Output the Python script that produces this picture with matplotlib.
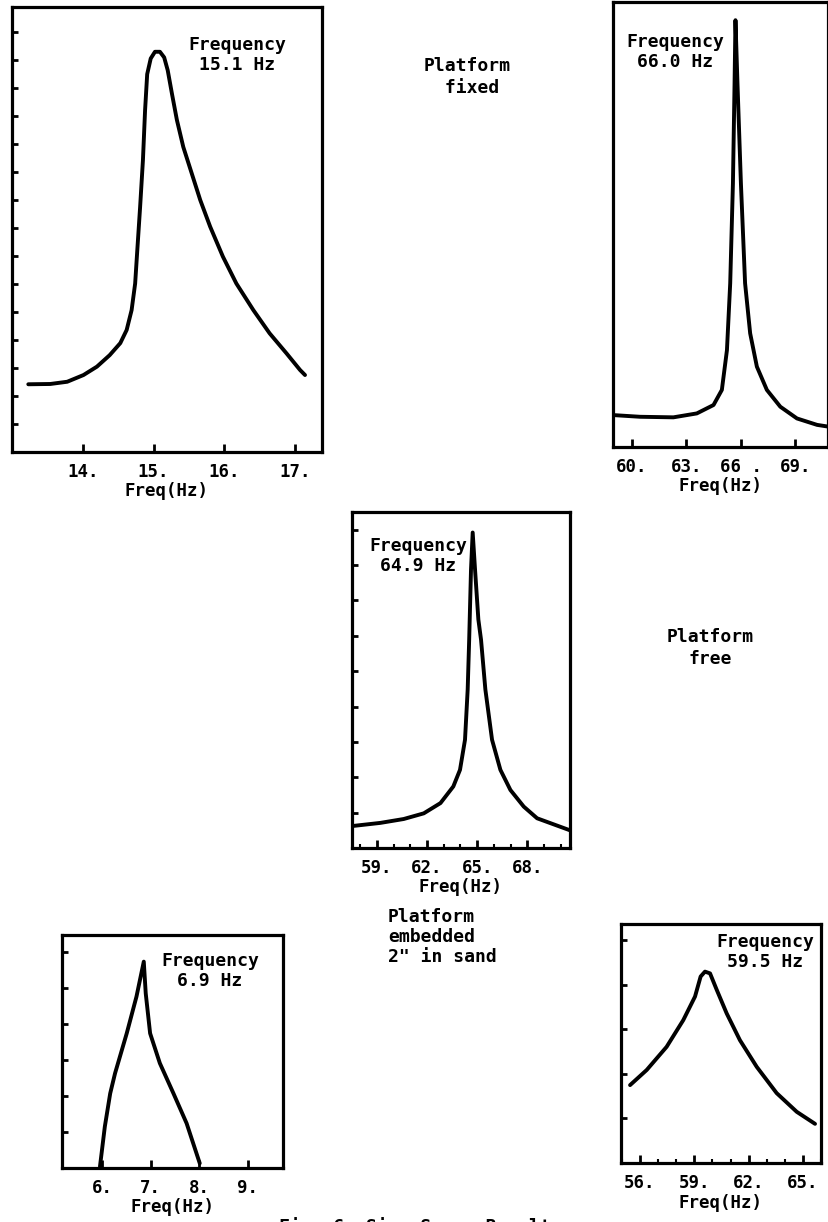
import numpy as np
import matplotlib.pyplot as plt
from matplotlib.ticker import MultipleLocator

plt.rcParams['font.family'] = ['DejaVu Sans Mono', 'Liberation Mono']
plt.rcParams['font.weight'] = 'bold'

W, H = 829, 1222

# platform fixed, first mode
f1 = [13.23, 13.54, 13.78, 14.01, 14.20, 14.38, 14.53, 14.62, 14.69, 14.74,
      14.77, 14.81, 14.85, 14.88, 14.91, 14.96, 15.02, 15.09, 15.15, 15.20,
      15.26, 15.33, 15.42, 15.54, 15.66, 15.80, 15.98, 16.17, 16.41, 16.64,
      16.88, 17.07, 17.14]
a1 = [2.42, 2.43, 2.51, 2.75, 3.05, 3.46, 3.89, 4.36, 5.07, 6.02,
      7.2, 8.75, 10.43, 12.2, 13.5, 14.06, 14.3, 14.3, 14.1, 13.64,
      12.8, 11.86, 10.9, 9.95, 9.0, 8.05, 6.98, 6.02, 5.07, 4.24,
      3.52, 2.93, 2.75]

# platform fixed, second mode
f2 = [58.97, 60.44, 62.28, 63.57, 64.49, 64.95, 65.23, 65.41, 65.56, 65.65,
      65.70, 65.81, 66.0, 66.23, 66.51, 66.88, 67.43, 68.17, 69.09, 70.2, 70.8]
a2 = [1.14, 1.08, 1.06, 1.2, 1.5, 2.04, 3.46, 5.85, 9.42, 13.0,
      15.25, 13.0, 9.42, 5.85, 4.06, 2.87, 2.04, 1.44, 1.02, 0.79, 0.73]

# platform free
f3 = [57.5, 59.2, 60.6, 61.8, 62.8, 63.57, 63.97, 64.27, 64.43, 64.52, 64.63,
      64.73, 64.87, 65.07, 65.23, 65.49, 65.89, 66.39, 66.99, 67.79, 68.59,
      70.56]
a3 = [0.62, 0.71, 0.82, 0.98, 1.27, 1.74, 2.21, 3.06, 4.48, 5.89, 7.88,
      8.92, 7.88, 6.46, 5.89, 4.48, 3.06, 2.21, 1.64, 1.17, 0.84,
      0.5]

# platform embedded, first mode
f4 = [5.96, 6.06, 6.17, 6.27, 6.51, 6.71, 6.86, 6.90, 6.99, 7.19, 7.47, 7.74, 8.01]
a4 = [0.04, 1.15, 2.07, 2.63, 3.74, 4.76, 5.73, 4.85, 3.74, 2.91, 2.07, 1.24, 0.13]

# platform embedded, second mode
f5 = [55.45, 56.37, 57.47, 58.39, 59.04, 59.35, 59.59, 59.87, 60.24, 60.79,
      61.52, 62.45, 63.55, 64.66, 65.67]
a5 = [1.75, 2.09, 2.61, 3.21, 3.74, 4.19, 4.3, 4.26, 3.89, 3.36,
      2.76, 2.16, 1.57, 1.15, 0.88]

panels = [
    dict(box=(12, 7, 322, 452), f=f1, a=a1, xlim=(13.0, 17.38), ylim=(0, 15.9),
         xt=[14, 15, 16, 17], xl=["14.", "15.", "16.", "17."], minor=None,
         yt=range(1, 16), txt="Frequency\n15.1 Hz", tx=237, ty=55),
    dict(box=(613, 2, 828, 447), f=f2, a=a2, xlim=(58.95, 70.8), ylim=(0, 15.9),
         xt=[60, 63, 66, 69], xl=["60.", "63.", "66 .", "69."], minor=None,
         yt=[], txt="Frequency\n66.0 Hz", tx=675, ty=52),
    dict(box=(352, 512, 570, 848), f=f3, a=a3, xlim=(57.5, 70.56), ylim=(0, 9.5),
         xt=[59, 62, 65, 68], xl=["59.", "62.", "65.", "68."], minor=1,
         yt=range(1, 10), txt="Frequency\n64.9 Hz", tx=418, ty=556),
    dict(box=(62, 935, 283, 1168), f=f4, a=a4, xlim=(5.18, 9.72), ylim=(0, 6.47),
         xt=[6, 7, 8, 9], xl=["6.", "7.", "8.", "9."], minor=None,
         yt=range(1, 7), txt="Frequency\n6.9 Hz", tx=210, ty=971),
    dict(box=(621, 924, 821, 1163), f=f5, a=a5, xlim=(54.95, 66.0), ylim=(0, 5.37),
         xt=[56, 59, 62, 65], xl=["56.", "59.", "62.", "65."], minor=1,
         yt=range(1, 6), txt="Frequency\n59.5 Hz", tx=765, ty=952),
]

fig = plt.figure(figsize=(W / 100, H / 100), dpi=100)

for p in panels:
    x0, y0, x1, y1 = p['box']
    ax = fig.add_axes([x0 / W, 1 - y1 / H, (x1 - x0) / W, (y1 - y0) / H])
    ax.plot(p['f'], p['a'], color='black', lw=2.8, solid_capstyle='round',
            solid_joinstyle='round')
    ax.set_xlim(*p['xlim'])
    ax.set_ylim(*p['ylim'])
    ax.set_xticks(p['xt'])
    ax.set_xticklabels(p['xl'], fontsize=12.5, fontweight='bold')
    if p['minor']:
        ax.xaxis.set_minor_locator(MultipleLocator(p['minor']))
    ax.set_yticks(list(p['yt']))
    ax.set_yticklabels([])
    ax.tick_params(axis='x', which='major', direction='in', length=6, width=2, pad=8)
    ax.tick_params(axis='x', which='minor', direction='in', length=3, width=1.5)
    ax.tick_params(axis='y', direction='in', length=4, width=2)
    for s in ax.spines.values():
        s.set_linewidth(2.3)
    ax.set_xlabel("Freq(Hz)", fontsize=12.5, fontweight='bold', labelpad=1)
    fig.text(p['tx'] / W, 1 - p['ty'] / H, p['txt'], ha='center', va='center',
             fontsize=13, fontweight='bold', linespacing=1.1)

fig.text(467 / W, 1 - 77 / H, "Platform\n fixed", ha='center', va='center',
         fontsize=13, fontweight='bold', linespacing=1.35)
fig.text(710 / W, 1 - 648 / H, "Platform\nfree", ha='center', va='center',
         fontsize=13, fontweight='bold', linespacing=1.35)
fig.text(388 / W, 1 - 937 / H, "Platform\nembedded\n2\" in sand", ha='left',
         va='center', fontsize=13, fontweight='bold', linespacing=1.15)
fig.text(420 / W, 1 - 1227 / H, "Fig. 6  Sine Sweep Results", ha='center',
         va='center', fontsize=13, fontweight='bold')

fig.savefig("out.png", dpi=100)
